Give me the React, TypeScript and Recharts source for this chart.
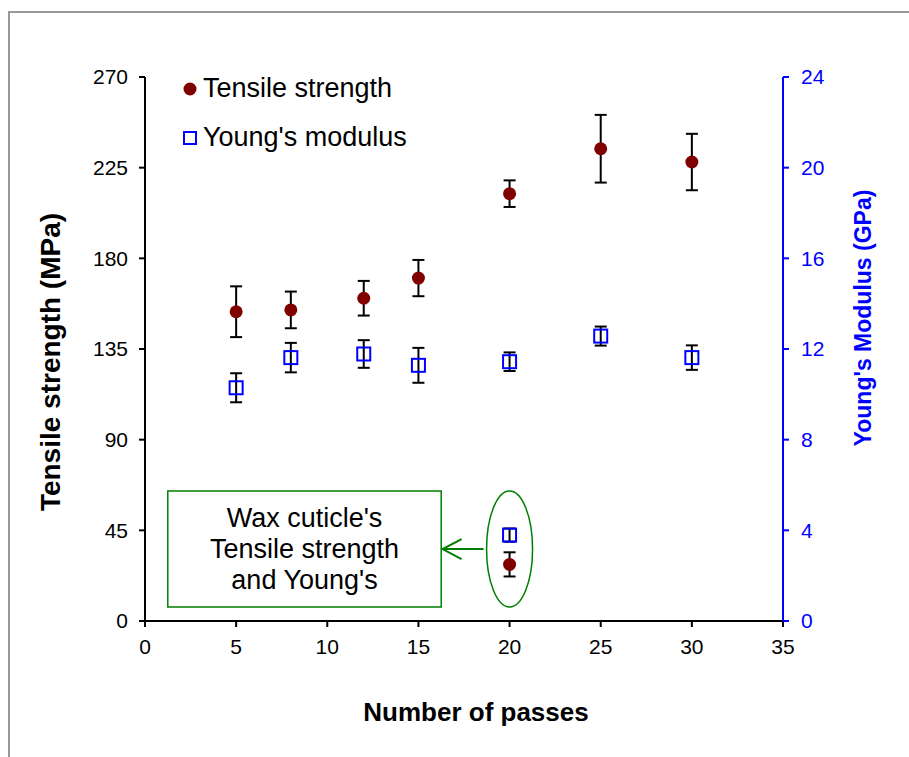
import {
  ComposedChart,
  Scatter,
  ErrorBar,
  XAxis,
  YAxis,
  Legend,
  ReferenceArea,
  ReferenceDot,
} from "recharts";

// number of passes
const passes = [5, 8, 12, 15, 20, 25, 30];
// tensile strength (MPa) and its error
const tensile = [153.5, 154.4, 160.2, 170.2, 212.1, 234.4, 227.8];
const tensileErr = [12.6, 9.1, 8.6, 9.0, 6.6, 16.8, 14.0];
// Young's modulus (GPa) and its error
const modulus = [10.29, 11.62, 11.78, 11.28, 11.44, 12.57, 11.62];
const modulusErr = [0.64, 0.65, 0.61, 0.77, 0.41, 0.42, 0.54];

// wax cuticle point
const waxPasses = [20];
const waxTensile = [28.1];
const waxTensileErr = [6.0];
const waxModulus = [3.79];
const waxModulusErr = [0.29];

const xTicks = [0, 5, 10, 15, 20, 25, 30, 35];
const leftTicks = [0, 45, 90, 135, 180, 225, 270];
const rightTicks = [0, 4, 8, 12, 16, 20, 24];

const noteLines = ["Wax cuticle's", "Tensile strength", "and Young's"];

const tensileData = passes.map((x, i) => ({ x, y: tensile[i], err: tensileErr[i] }));
const modulusData = passes.map((x, i) => ({ x, y: modulus[i], err: modulusErr[i] }));
const waxTensileData = waxPasses.map((x, i) => ({ x, y: waxTensile[i], err: waxTensileErr[i] }));
const waxModulusData = waxPasses.map((x, i) => ({ x, y: waxModulus[i], err: waxModulusErr[i] }));

const MAROON = "#800000";
const BLUE = "#0000ff";
const GREEN = "#008000";

const RoundDot = (p: any) => <circle cx={p.cx} cy={p.cy} r={6.5} fill={MAROON} />;
const SquareDot = (p: any) => (
  <rect x={p.cx - 6.5} y={p.cy - 6.5} width={13} height={13} fill="none" stroke={BLUE} strokeWidth={2} />
);

const EllipseMark = (p: any) => (
  <g>
    <ellipse cx={p.cx} cy={p.cy} rx={23} ry={58} fill="none" stroke={GREEN} strokeWidth={1.5} />
    <line x1={p.cx - 26} y1={p.cy} x2={p.cx - 66} y2={p.cy} stroke={GREEN} strokeWidth={2} />
    <polyline
      points={`${p.cx - 48},${p.cy - 10} ${p.cx - 67},${p.cy} ${p.cx - 48},${p.cy + 10}`}
      fill="none"
      stroke={GREEN}
      strokeWidth={2}
    />
  </g>
);

const NoteText = (p: any) => {
  const vb = p.viewBox;
  const cx = vb.x + vb.width / 2;
  const cy = vb.y + vb.height / 2;
  return (
    <text x={cx} textAnchor="middle" fontSize={27} fill="#000">
      {noteLines.map((t, i) => (
        <tspan key={t} x={cx} y={cy + (i - 1) * 31} dy="0.35em">
          {t}
        </tspan>
      ))}
    </text>
  );
};

const LegendBox = () => (
  <div style={{ fontSize: 27, lineHeight: "49px", color: "#000", textAlign: "left" }}>
    <div style={{ display: "flex", alignItems: "center" }}>
      <svg width={14} height={14} style={{ marginRight: 6 }}>
        <circle cx={7} cy={7} r={6.5} fill={MAROON} />
      </svg>
      Tensile strength
    </div>
    <div style={{ display: "flex", alignItems: "center" }}>
      <svg width={14} height={14} style={{ marginRight: 6 }}>
        <rect x={1} y={1} width={12} height={12} fill="none" stroke={BLUE} strokeWidth={2} />
      </svg>
      Young's modulus
    </div>
  </div>
);

export default function App() {
  return (
    <div
      style={{
        position: "absolute",
        left: 0,
        top: 0,
        width: 909,
        height: 757,
        background: "#fff",
        fontFamily: "'Liberation Sans', Arial, sans-serif",
        overflow: "hidden",
      }}
    >
      <ComposedChart width={909} height={757} margin={{ top: 77, right: 66, bottom: 106, left: 85 }}>
        <XAxis
          type="number"
          dataKey="x"
          domain={[0, 35]}
          ticks={xTicks}
          height={30}
          axisLine={{ stroke: "#000", strokeWidth: 2 }}
          tickLine={{ stroke: "#000", strokeWidth: 2 }}
          tickSize={6}
          tickMargin={12}
          tick={{ fill: "#000", fontSize: 21 }}
        />
        <YAxis
          yAxisId="left"
          type="number"
          dataKey="y"
          domain={[0, 270]}
          ticks={leftTicks}
          width={60}
          axisLine={{ stroke: "#000", strokeWidth: 2 }}
          tickLine={{ stroke: "#000", strokeWidth: 2 }}
          tickSize={6}
          tickMargin={11}
          tick={{ fill: "#000", fontSize: 21 }}
        />
        <YAxis
          yAxisId="right"
          orientation="right"
          type="number"
          dataKey="y"
          domain={[0, 24]}
          ticks={rightTicks}
          width={60}
          axisLine={{ stroke: BLUE, strokeWidth: 2 }}
          tickLine={{ stroke: BLUE, strokeWidth: 2 }}
          tickSize={6}
          tickMargin={12}
          tick={{ fill: BLUE, fontSize: 21 }}
        />
        <ReferenceArea
          yAxisId="left"
          x1={1.25}
          x2={16.25}
          y1={7}
          y2={64.5}
          fill="#fff"
          fillOpacity={1}
          stroke={GREEN}
          strokeWidth={1.5}
          label={<NoteText />}
        />
        <ReferenceDot yAxisId="left" x={20} y={35.7} shape={<EllipseMark />} />
        <Scatter
          name="Tensile strength"
          yAxisId="left"
          data={tensileData}
          shape={<RoundDot />}
          isAnimationActive={false}
        >
          <ErrorBar dataKey="err" direction="y" width={6} stroke="#000" strokeWidth={2} />
        </Scatter>
        <Scatter
          name="Young's modulus"
          yAxisId="right"
          data={modulusData}
          shape={<SquareDot />}
          isAnimationActive={false}
        >
          <ErrorBar dataKey="err" direction="y" width={6} stroke="#000" strokeWidth={2} />
        </Scatter>
        <Scatter
          yAxisId="left"
          data={waxTensileData}
          shape={<RoundDot />}
          legendType="none"
          isAnimationActive={false}
        >
          <ErrorBar dataKey="err" direction="y" width={6} stroke="#000" strokeWidth={2} />
        </Scatter>
        <Scatter
          yAxisId="right"
          data={waxModulusData}
          shape={<SquareDot />}
          legendType="none"
          isAnimationActive={false}
        >
          <ErrorBar dataKey="err" direction="y" width={6} stroke="#000" strokeWidth={2} />
        </Scatter>
        <Legend
          layout="horizontal"
          verticalAlign="middle"
          align="center"
          content={<LegendBox />}
          wrapperStyle={{ left: 183, top: 64, width: 300, height: 100 }}
        />
      </ComposedChart>
      <svg
        width={909}
        height={757}
        style={{ position: "absolute", left: 0, top: 0, pointerEvents: "none" }}
      >
        <path d="M9 760 V12 H912" fill="none" stroke="#999" strokeWidth={2} />
        <text
          x={50}
          y={362}
          transform="rotate(-90 50 362)"
          textAnchor="middle"
          dominantBaseline="central"
          fontSize={28}
          fontWeight="bold"
          fill="#000"
        >
          Tensile strength (MPa)
        </text>
        <text
          x={863}
          y={318}
          transform="rotate(-90 863 318)"
          textAnchor="middle"
          dominantBaseline="central"
          fontSize={23}
          fontWeight="bold"
          fill={BLUE}
        >
          Young's Modulus (GPa)
        </text>
        <text x={476} y={712} textAnchor="middle" dominantBaseline="central" fontSize={26} fontWeight="bold" fill="#000">
          Number of passes
        </text>
      </svg>
    </div>
  );
}
